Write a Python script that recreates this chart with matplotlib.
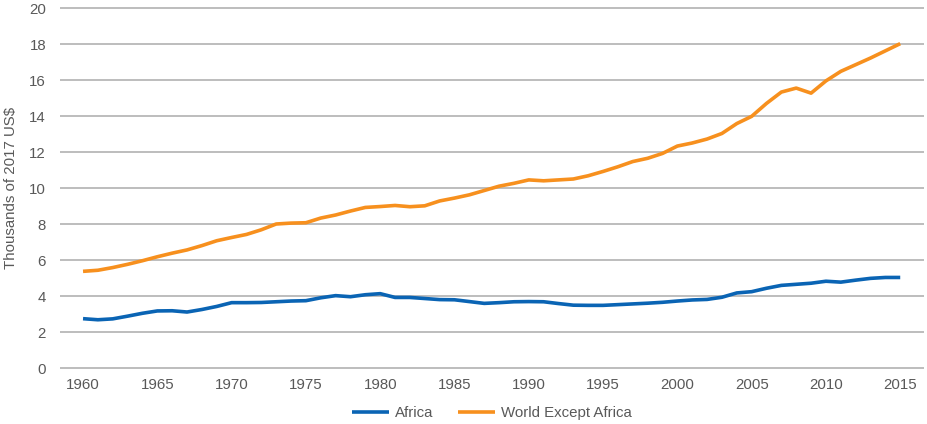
import numpy as np
import matplotlib.pyplot as plt

years = np.arange(1960, 2016)

africa = [2.74, 2.68, 2.73, 2.88, 3.04, 3.17, 3.18, 3.11, 3.25, 3.42,
          3.63, 3.63, 3.64, 3.68, 3.72, 3.74, 3.90, 4.02, 3.96, 4.07,
          4.13, 3.92, 3.92, 3.86, 3.80, 3.79, 3.69, 3.59, 3.63, 3.68,
          3.69, 3.68, 3.58, 3.49, 3.48, 3.48, 3.52, 3.56, 3.60, 3.65,
          3.72, 3.78, 3.81, 3.93, 4.17, 4.24, 4.43, 4.59, 4.65, 4.71,
          4.82, 4.77, 4.88, 4.98, 5.03, 5.03]

world_ex_africa = [5.37, 5.43, 5.58, 5.76, 5.96, 6.18, 6.38, 6.56, 6.80, 7.07,
                   7.25, 7.42, 7.68, 8.00, 8.05, 8.07, 8.33, 8.50, 8.72, 8.92,
                   8.97, 9.03, 8.96, 9.01, 9.28, 9.44, 9.62, 9.86, 10.10, 10.26,
                   10.45, 10.40, 10.45, 10.50, 10.68, 10.92, 11.18, 11.47, 11.65, 11.92,
                   12.33, 12.50, 12.72, 13.03, 13.58, 13.98, 14.70, 15.33, 15.55, 15.27,
                   15.95, 16.48, 16.85, 17.22, 17.62, 18.02]

yticks = np.arange(0, 21, 2)
xticks = np.arange(1960, 2016, 5)

plt.rcParams['font.family'] = ['Liberation Sans', 'DejaVu Sans']

fig = plt.figure(figsize=(9.27, 4.24), dpi=100)
ax = fig.add_axes([60 / 927, 54.2 / 424, 864 / 927, 363.6 / 424])

ax.plot(years, africa, color='#0a64b4', lw=2.6, label='Africa', solid_capstyle='butt')
ax.plot(years, world_ex_africa, color='#f7901e', lw=2.6, label='World Except Africa',
        solid_capstyle='butt')

ax.set_xlim(1958.45, 2016.6)
ax.set_ylim(-0.1, 20.1)
ax.set_yticks(yticks)
ax.set_xticks(xticks)
ax.grid(axis='y', color='#b8b8b8', lw=1.3)
ax.set_axisbelow(True)
for s in ax.spines.values():
    s.set_visible(False)
ax.tick_params(length=0, labelsize=10.8, labelcolor='#595959')
ax.tick_params(axis='y', pad=10)
ax.tick_params(axis='x', pad=6)
ax.set_ylabel('Thousands of 2017 US$', fontsize=10.8, color='#595959', labelpad=8)

ax.legend(loc='upper center', bbox_to_anchor=(0.5, -0.071), ncol=2, frameon=False,
          fontsize=10.8, labelcolor='#595959', handlelength=2.5, columnspacing=1.6,
          handletextpad=0.4, borderaxespad=0.3)

fig.savefig('out.png', dpi=100)
